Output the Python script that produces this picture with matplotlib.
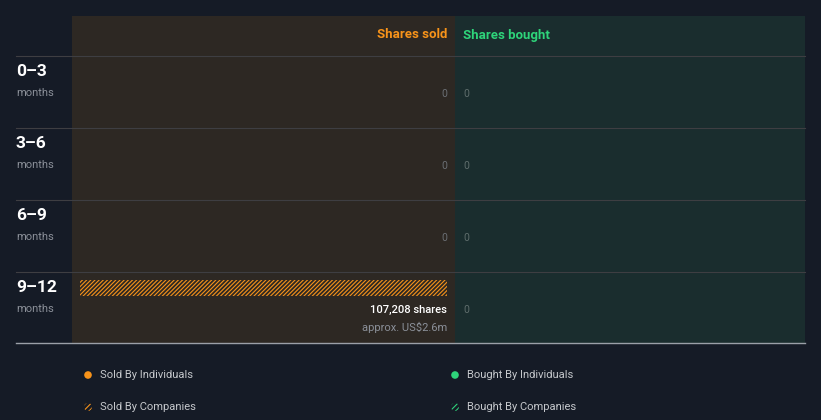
import matplotlib
matplotlib.use("Agg")
import matplotlib.pyplot as plt
from matplotlib.patches import Rectangle, Circle

plt.rcParams['font.family'] = ['Roboto', 'DejaVu Sans']
plt.rcParams['hatch.linewidth'] = 0.8

# ---- data ----
periods = ["0\u20133", "3\u20136", "6\u20139", "9\u201312"]
period_unit = "months"
sold_individuals = [0, 0, 0, 0]
sold_companies = [0, 0, 0, 107208]
bought_individuals = [0, 0, 0, 0]
bought_companies = [0, 0, 0, 0]
sold_value_labels = ["", "", "", "approx. US$2.6m"]
header_sold = "Shares sold"
header_bought = "Shares bought"
legend_labels = ["Sold By Individuals", "Sold By Companies",
                 "Bought By Individuals", "Bought By Companies"]

# ---- style ----
BG = "#151b26"
SOLD_BG = "#2d2823"
BOUGHT_BG = "#1a2d2e"
ORANGE = "#f7931a"
GREEN = "#2ed47a"
GRID = "#3e3e42"
W, H = 821, 420

fig = plt.figure(figsize=(W / 100, H / 100), dpi=100, facecolor=BG)
ax = fig.add_axes([0, 0, 1, 1])
ax.set_xlim(0, W)
ax.set_ylim(H, 0)
ax.axis("off")
ax.set_facecolor(BG)

# panels
top, bottom = 16, 343
split = 455
ax.add_patch(Rectangle((72, top), split - 72, bottom - top, facecolor=SOLD_BG, edgecolor="none", zorder=0))
ax.add_patch(Rectangle((split, top), 805 - split, bottom - top, facecolor=BOUGHT_BG, edgecolor="none", zorder=0))

# headers
ax.text(447, 35, header_sold, color=ORANGE, fontsize=9.5, fontweight="bold", ha="right", va="center")
ax.text(463, 35, header_bought, color=GREEN, fontsize=9.5, fontweight="bold", ha="left", va="center")

row_top0 = 56
row_h = 72
for i, p in enumerate(periods):
    yt = row_top0 + i * row_h
    ax.plot([16, 805], [yt, yt], color=GRID, lw=0.8, zorder=1)
    ax.text(16, yt + 15, p, color="white", fontsize=12.5, fontweight="bold", ha="left", va="center")
    ax.text(16, yt + 37, period_unit, color="#8b9099", fontsize=8, ha="left", va="center")

ax.plot([16, 805], [bottom, bottom], color="#9ba0a8", lw=1.0, zorder=2)

# bar axes for sold (grows leftwards from x=447)
max_val = max(max(sold_individuals), max(sold_companies), max(bought_individuals), max(bought_companies), 1)
bx0, bx1 = 80, 447
ax_s = fig.add_axes([bx0 / W, 0, (bx1 - bx0) / W, 1])
ax_s.set_xlim(max_val, 0)
ax_s.set_ylim(H, 0)
ax_s.axis("off")
ax_s.patch.set_alpha(0)

gx0, gx1 = 463, 797
ax_b = fig.add_axes([gx0 / W, 0, (gx1 - gx0) / W, 1])
ax_b.set_xlim(0, max_val)
ax_b.set_ylim(H, 0)
ax_b.axis("off")
ax_b.patch.set_alpha(0)

for i in range(len(periods)):
    yt = row_top0 + i * row_h
    si, sc = sold_individuals[i], sold_companies[i]
    bi, bc = bought_individuals[i], bought_companies[i]
    st = si + sc
    bt = bi + bc
    if st > 0:
        if si > 0:
            ax_s.barh(yt + 16, si, height=16, left=0, color=ORANGE, edgecolor="none")
        if sc > 0:
            ax_s.barh(yt + 16, sc, height=16, left=si, color="none", edgecolor=ORANGE, hatch="////////", lw=0)
        ax.text(447, yt + 38, f"{st:,} shares", color="white", fontsize=8, fontweight="medium", ha="right", va="center")
        ax.text(447, yt + 55, sold_value_labels[i], color="#8b9099", fontsize=8, ha="right", va="center")
    else:
        ax.text(447, yt + 38, f"{st:,}", color="#6b6f74", fontsize=7.5, ha="right", va="center")
    if bt > 0:
        if bi > 0:
            ax_b.barh(yt + 16, bi, height=16, left=0, color=GREEN, edgecolor="none")
        if bc > 0:
            ax_b.barh(yt + 16, bc, height=16, left=bi, color="none", edgecolor=GREEN, hatch="////////", lw=0)
        ax.text(463, yt + 38, f"{bt:,} shares", color="white", fontsize=8, ha="left", va="center")
    else:
        ax.text(463, yt + 38, f"{bt:,}", color="#5f6d6c", fontsize=7.5, ha="left", va="center")

# legend
leg_pos = [(88, 375), (88, 407), (455, 375), (455, 407)]
leg_col = [ORANGE, ORANGE, GREEN, GREEN]
for (lx, ly), lab, col, k in zip(leg_pos, legend_labels, leg_col, range(4)):
    if k % 2 == 0:
        ax.scatter([lx], [ly], s=30, color=col, edgecolor="none", zorder=3)
    else:
        ax.add_patch(Circle((lx, ly), 4, facecolor="none", edgecolor=col, hatch="//////", lw=0, zorder=3))
    ax.text(lx + 12, ly, lab, color="#c5c8cc", fontsize=8, ha="left", va="center")

fig.savefig("out.png", dpi=100, facecolor=BG)
